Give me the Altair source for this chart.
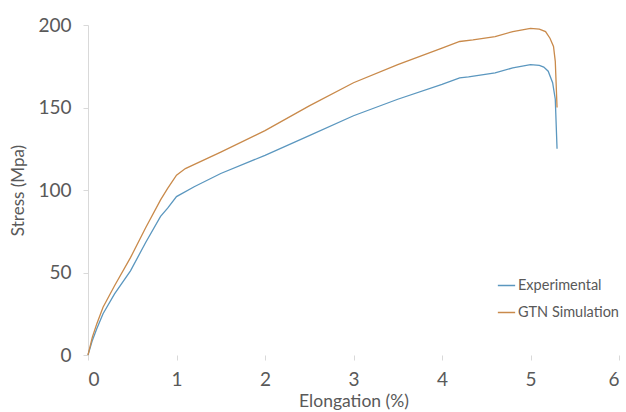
import altair as alt
import pandas as pd

exp_x = [0, 0.05, 0.1, 0.17, 0.3, 0.48, 0.65, 0.82, 0.9, 1.0, 1.2, 1.5, 2.0, 2.5, 3.0, 3.5, 4.0, 4.2, 4.3, 4.6, 4.8, 5.0, 5.1, 5.15, 5.2, 5.25, 5.28, 5.3]
exp_y = [0, 9, 16, 25, 37, 51, 68, 84, 89, 96, 102, 110, 121, 133, 145, 155, 164, 168, 168.5, 171, 174, 176, 175.5, 174.5, 172, 165, 155, 125]

gtn_x = [0, 0.05, 0.1, 0.17, 0.3, 0.48, 0.65, 0.82, 0.9, 1.0, 1.1, 1.5, 2.0, 2.5, 3.0, 3.5, 4.0, 4.2, 4.35, 4.6, 4.8, 5.0, 5.1, 5.17, 5.22, 5.26, 5.28, 5.3]
gtn_y = [0, 11, 19, 29, 42, 59, 77, 94, 101, 109, 113, 123, 136, 151, 165, 176, 186, 190, 191, 193, 196, 198, 197.5, 196, 192, 187, 178, 150]

series = ["Experimental", "GTN Simulation"]
colors = ["#5b97bf", "#c98a4b"]

rows = []
for i, (x, y) in enumerate(zip(exp_x, exp_y)):
    rows.append({"Elongation": x, "Stress": y, "Series": series[0], "order": i})
for i, (x, y) in enumerate(zip(gtn_x, gtn_y)):
    rows.append({"Elongation": x, "Stress": y, "Series": series[1], "order": i})
df = pd.DataFrame(rows)

font = "Lato"
gray = "#595959"

chart = alt.Chart(df).mark_line(strokeWidth=1.3).encode(
    x=alt.X("Elongation:Q", title="Elongation (%)",
            scale=alt.Scale(domain=[0, 6], nice=False),
            axis=alt.Axis(values=[0, 1, 2, 3, 4, 5, 6], grid=False, domain=False,
                          tickColor="#d9d9d9", tickSize=5, labelPadding=10,
                          labelFontSize=19, labelColor=gray, labelFont=font,
                          titleFont=font, titleFontSize=17.5, titleColor=gray,
                          titleFontWeight="normal", titlePadding=3)),
    y=alt.Y("Stress:Q", title="Stress (Mpa)",
            scale=alt.Scale(domain=[0, 200], nice=False),
            axis=alt.Axis(values=[0, 50, 100, 150, 200], grid=False,
                          domainColor="#d9d9d9", tickColor="#d9d9d9", tickSize=5,
                          labelPadding=12, labelFontSize=19, labelColor=gray, labelFont=font,
                          titleFont=font, titleFontSize=17, titleColor=gray,
                          titleFontWeight="normal", titlePadding=10)),
    color=alt.Color("Series:N", scale=alt.Scale(domain=series, range=colors),
                    legend=alt.Legend(title=None, orient="none", legendX=409, legendY=251,
                                      symbolType="stroke", symbolSize=300, symbolStrokeWidth=1.5,
                                      labelFont=font, labelFontSize=14.5, labelColor=gray,
                                      labelOffset=2, rowPadding=11)),
    order="order:Q",
).properties(
    width=531, height=330,
    autosize=alt.AutoSizeParams(type="none"),
    padding={"left": 88, "top": 25, "right": 7, "bottom": 57},
).configure_view(stroke=None)

chart.save("out.html", embed_options={"renderer": "svg", "actions": False})
